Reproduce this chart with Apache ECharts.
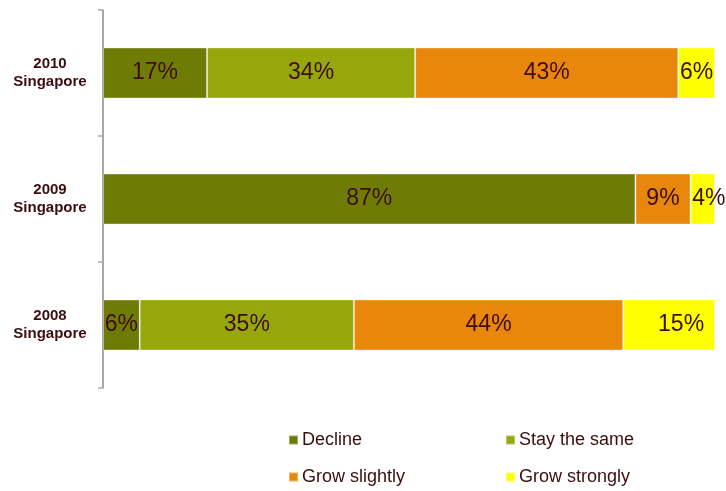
<!DOCTYPE html>
<html>
<head>
<meta charset="utf-8">
<script src="https://cdn.jsdelivr.net/npm/echarts@6/dist/echarts.min.js"></script>
<style>
  html, body { margin: 0; padding: 0; background: #fff; }
  #chart { width: 726px; height: 491px; }
</style>
</head>
<body>
<div id="chart"></div>
<script>
// Survey responses by year (percent of respondents)
const categories = ['2008\nSingapore', '2009\nSingapore', '2010\nSingapore'];
const seriesNames = ['Decline', 'Stay the same', 'Grow slightly', 'Grow strongly'];
const decline = [6, 87, 17];
const stayTheSame = [35, null, 34];
const growSlightly = [44, 9, 43];
const growStrongly = [15, 4, 6];

const values = [decline, stayTheSame, growSlightly, growStrongly];
const colors = ['#6e7b05', '#95a70a', '#e8870a', '#ffff00'];
const textColor = '#3d0d0d';
const fontFamily = '"Liberation Sans", Arial, sans-serif';

// small nudges for labels that sit off-centre in narrow/edge segments
const labelNudge = { '3-0': [12, 0], '3-1': [6, 0] };

const series = seriesNames.map((name, s) => ({
  name: name,
  type: 'bar',
  stack: 'total',
  barWidth: 51,
  itemStyle: { color: colors[s], borderColor: 'rgba(255,255,255,0.35)', borderWidth: 1 },
  label: {
    show: true,
    position: 'inside',
    formatter: p => p.value + '%',
    color: textColor,
    fontSize: 23,
    fontFamily: fontFamily
  },
  data: values[s].map((v, i) => {
    const nudge = labelNudge[s + '-' + i];
    return nudge ? { value: v, label: { offset: nudge } } : v;
  })
}));

// one legend block per item, laid out as a 2x2 grid
const legendSpots = [[288, 431], [505, 431], [288, 468], [505, 468]];
const legends = seriesNames.map((name, i) => ({
  data: [name],
  left: legendSpots[i][0],
  top: legendSpots[i][1],
  padding: 0,
  icon: 'rect',
  itemWidth: 9,
  itemHeight: 9,
  itemGap: 5,
  selectedMode: false,
  textStyle: { color: textColor, fontSize: 18, fontFamily: fontFamily, padding: [0, 0, 0, -1] }
}));

const chart = echarts.init(document.getElementById('chart'), null, { renderer: 'canvas' });
chart.setOption({
  animation: false,
  backgroundColor: '#ffffff',
  grid: { left: 103, right: 11, top: 10, bottom: 103, containLabel: false },
  xAxis: {
    type: 'value',
    min: 0,
    max: 100,
    show: false
  },
  yAxis: {
    type: 'category',
    data: categories,
    axisLine: { show: true, lineStyle: { color: '#8a8a8a', width: 1.5 } },
    axisTick: { show: true, length: 5, lineStyle: { color: '#aaaaaa', width: 1.5 } },
    axisLabel: {
      align: 'center',
      margin: 53,
      color: textColor,
      fontSize: 15,
      fontWeight: 'bold',
      lineHeight: 18,
      fontFamily: fontFamily
    }
  },
  legend: legends,
  series: series
});
</script>
</body>
</html>
